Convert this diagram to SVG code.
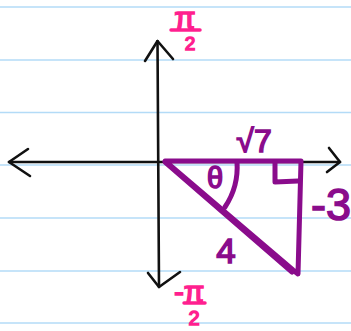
<svg xmlns="http://www.w3.org/2000/svg" width="351" height="331" viewBox="0 0 351 331">
<defs>
<style>
.rule{stroke:#b3dbf7;stroke-width:1.6}
.ax{stroke:#111;stroke-width:2.6;fill:none;stroke-linecap:round;stroke-linejoin:round}
.tri{stroke:#8a0c8c;stroke-width:5;fill:none;stroke-linecap:round;stroke-linejoin:round}
.pl{fill:#8a0c8c;stroke:#8a0c8c;stroke-width:1.5;font-family:"Liberation Sans",Arial,sans-serif}
.pk{fill:#ff1f8f;stroke:#ff1f8f;stroke-width:1.5;font-family:"Liberation Sans",Arial,sans-serif}
.bar{stroke:#ff1f8f;stroke-width:3.5;stroke-linecap:round}
</style>
</defs>
<rect width="351" height="331" fill="#fff"/>
<g id="rules">
<line class="rule" x1="0" y1="7" x2="351" y2="7"/>
<line class="rule" x1="0" y1="60" x2="351" y2="60"/>
<line class="rule" x1="0" y1="112.5" x2="351" y2="112.5"/>
<line class="rule" x1="0" y1="165" x2="351" y2="165"/>
<line class="rule" x1="0" y1="218" x2="351" y2="218"/>
<line class="rule" x1="0" y1="271" x2="351" y2="271"/>
<line class="rule" x1="0" y1="323" x2="351" y2="323"/>
</g>
<g id="connectors">
<path class="ax" d="M9 162 L340 162"/>
<path class="ax" d="M28 149 L9 162 L30 176"/>
<path class="ax" d="M329 148 L340 162 L327 172"/>
<path class="ax" d="M157.5 41 L159 287"/>
<path class="ax" d="M145 61 L157.5 41 L173 59"/>
<path class="ax" d="M148 273 L159 287 L180 272"/>
</g>
<g id="triangle">
<path class="tri" d="M165 161 L301 161 L298 274 L293 270 Z"/>
<path class="tri" d="M165 162 L292 272"/>
<path class="tri" d="M275 162 L275 182 L298 181"/>
<path class="tri" d="M237 162 A72 72 0 0 1 225 207"/>
</g>
<g id="labels">
<text class="pl" x="215" y="188" font-size="29" text-anchor="middle">θ</text>
<text class="pl" x="254" y="152" font-size="32" text-anchor="middle">√7</text>
<text class="pl" x="311" y="220" font-size="45">-3</text>
<text class="pl" x="226" y="263" font-size="35" text-anchor="middle">4</text>
</g>
<g id="pi-top">
<text class="pk" font-size="31" text-anchor="middle"><tspan x="185" y="29">π</tspan><tspan x="190" y="50" font-size="19">2</tspan></text>
<line class="bar" x1="171" y1="30" x2="200" y2="30"/>
</g>
<g id="pi-bottom">
<text class="pk" font-size="30" text-anchor="middle"><tspan x="179" y="302">-</tspan><tspan x="194" y="302">π</tspan><tspan x="194" y="325" font-size="20">2</tspan></text>
<line class="bar" x1="184" y1="303" x2="205" y2="303"/>
</g>
</svg>
